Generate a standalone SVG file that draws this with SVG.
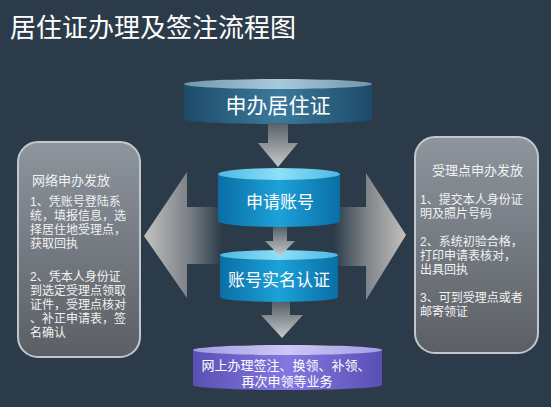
<svg xmlns="http://www.w3.org/2000/svg" width="551" height="407" viewBox="0 0 551 407">
<defs>
<style>
.t{font-family:"Liberation Sans","Noto Sans CJK SC",sans-serif;fill:#ffffff}
.p{font-family:"Liberation Sans","Noto Sans CJK SC",sans-serif;fill:#f2f2f2;font-size:12px}
.ph{font-size:13px}
.panel{fill:url(#gPanel);stroke:#c3c7cb;stroke-width:2}
.darr{fill:url(#gDown)}
</style>
<linearGradient id="gPanel" x1="0" y1="0" x2="0" y2="1">
<stop offset="0" stop-color="#8d959d"/>
<stop offset="1" stop-color="#5b5f65"/>
</linearGradient>
<linearGradient id="gDown" x1="0" y1="0" x2="0" y2="1">
<stop offset="0" stop-color="#56606a"/>
<stop offset="1" stop-color="#c9c9c9"/>
</linearGradient>
<linearGradient id="gLeft" gradientUnits="userSpaceOnUse" x1="144" y1="0" x2="222" y2="0">
<stop offset="0" stop-color="#c2c2c2"/>
<stop offset="0.55" stop-color="#7e8388"/>
<stop offset="1" stop-color="#2c3b4a"/>
</linearGradient>
<linearGradient id="gRight" gradientUnits="userSpaceOnUse" x1="334" y1="0" x2="406" y2="0">
<stop offset="0" stop-color="#2c3b4a"/>
<stop offset="0.45" stop-color="#7e8388"/>
<stop offset="1" stop-color="#c4c0bc"/>
</linearGradient>
<linearGradient id="gC1" x1="0" y1="0" x2="1" y2="0">
<stop offset="0" stop-color="#1d4a68"/>
<stop offset="0.5" stop-color="#3a7a9c"/>
<stop offset="1" stop-color="#1d4a68"/>
</linearGradient>
<linearGradient id="gC1t" x1="0" y1="0" x2="1" y2="0">
<stop offset="0" stop-color="#6f96ad"/>
<stop offset="0.5" stop-color="#a9cadb"/>
<stop offset="1" stop-color="#6f96ad"/>
</linearGradient>
<linearGradient id="gC2" x1="0" y1="0" x2="1" y2="0">
<stop offset="0" stop-color="#0a6ea6"/>
<stop offset="0.5" stop-color="#1ca2d8"/>
<stop offset="1" stop-color="#0a6ea6"/>
</linearGradient>
<linearGradient id="gC2t" x1="0" y1="0" x2="1" y2="0">
<stop offset="0" stop-color="#4cb8e2"/>
<stop offset="0.5" stop-color="#8ee0f8"/>
<stop offset="1" stop-color="#4cb8e2"/>
</linearGradient>
<linearGradient id="gC4" x1="0" y1="0" x2="1" y2="0">
<stop offset="0" stop-color="#5a50b4"/>
<stop offset="0.5" stop-color="#8478e0"/>
<stop offset="1" stop-color="#5a50b4"/>
</linearGradient>
<linearGradient id="gC4t" x1="0" y1="0" x2="1" y2="0">
<stop offset="0" stop-color="#a49ce4"/>
<stop offset="0.5" stop-color="#cdc8f6"/>
<stop offset="1" stop-color="#a49ce4"/>
</linearGradient>
</defs>
<rect x="0" y="0" width="551" height="407" fill="#2c3b4a"/>
<text class="t" x="10" y="37" font-size="26">居住证办理及签注流程图</text>

<g id="connectors">
<polygon id="arrow-left" points="144,236 187,172 187,207 222,207 222,264 187,264 187,298" fill="url(#gLeft)"/>
<polygon id="arrow-right" points="406,235 366,173 366,207 334,207 334,266 366,266 366,300" fill="url(#gRight)"/>
</g>

<g id="node-apply">
<path d="M184,84 L184,119 A94,5 0 0 0 372,119 L372,84 Z" fill="url(#gC1)"/>
<ellipse cx="278" cy="84" rx="94" ry="5" fill="url(#gC1t)"/>
<text class="t" x="278" y="113" font-size="21" text-anchor="middle">申办居住证</text>
</g>

<g id="node-account">
<path d="M218,174 L218,221 A61,6 0 0 0 340,221 L340,174 Z" fill="url(#gC2)"/>
<ellipse cx="279" cy="174" rx="61" ry="6" fill="url(#gC2t)"/>
<text class="t" x="280" y="208" font-size="17" text-anchor="middle">申请账号</text>
</g>

<g id="node-verify">
<path d="M220,255 L220,297 A59,5 0 0 0 338,297 L338,255 Z" fill="url(#gC2)"/>
<ellipse cx="279" cy="255" rx="59" ry="5" fill="url(#gC2t)"/>
<text class="t" x="279" y="286" font-size="17" text-anchor="middle">账号实名认证</text>
</g>

<g id="node-online">
<path d="M193,350 L193,385 A94.5,5 0 0 0 382,385 L382,350 Z" fill="url(#gC4)"/>
<ellipse cx="287.5" cy="350" rx="94.5" ry="5" fill="url(#gC4t)"/>
<text class="t" x="286" y="370" font-size="13" text-anchor="middle">网上办理签注、换领、补领、</text>
<text class="t" x="287" y="386" font-size="13" text-anchor="middle">再次申领等业务</text>
</g>

<g id="connectors-down">
<polygon class="darr" points="268,123 288,123 288,143 298,143 278,167 258,143 268,143"/>
<polygon class="darr" points="273,227 287,227 287,241 295,241 280,256 265,241 273,241"/>
<polygon class="darr" points="272,302 290,302 290,315 303,315 282,338 261,315 272,315"/>
</g>

<g id="node-online-panel">
<rect class="panel" x="18" y="142" width="122" height="215" rx="20"/>
<text class="p ph" x="32" y="185">网络申办发放</text>
<text class="p" x="30" y="206">1、凭账号登陆系</text>
<text class="p" x="30" y="220">统，填报信息，选</text>
<text class="p" x="30" y="234">择居住地受理点，</text>
<text class="p" x="30" y="248">获取回执</text>
<text class="p" x="30" y="281">2、凭本人身份证</text>
<text class="p" x="30" y="295">到选定受理点领取</text>
<text class="p" x="30" y="309">证件，受理点核对</text>
<text class="p" x="30" y="323">、补正申请表，签</text>
<text class="p" x="30" y="337">名确认</text>
</g>

<g id="node-office-panel">
<rect class="panel" x="415" y="137" width="123" height="216" rx="20"/>
<text class="p ph" x="432" y="175">受理点申办发放</text>
<text class="p" x="420" y="204">1、提交本人身份证</text>
<text class="p" x="420" y="218">明及照片号码</text>
<text class="p" x="420" y="246">2、系统初验合格，</text>
<text class="p" x="420" y="260">打印申请表核对，</text>
<text class="p" x="420" y="274">出具回执</text>
<text class="p" x="420" y="302">3、可到受理点或者</text>
<text class="p" x="420" y="316">邮寄领证</text>
</g>
</svg>
